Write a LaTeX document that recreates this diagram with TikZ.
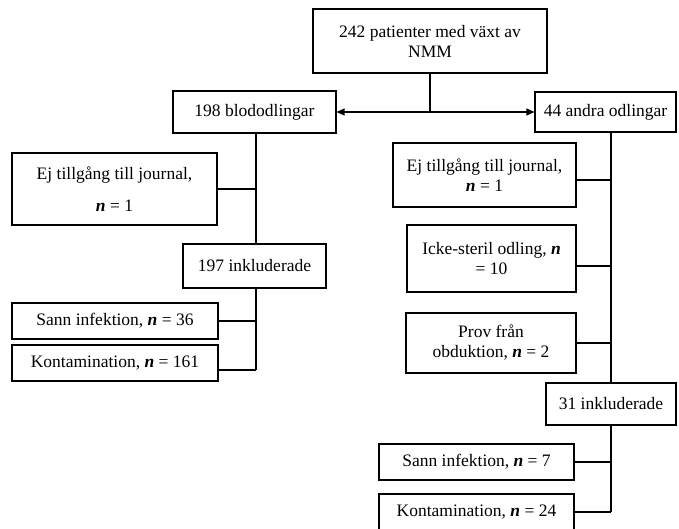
\documentclass[tikz,border=0pt]{standalone}
\usepackage{fontspec}
\setmainfont{Liberation Serif}
\usetikzlibrary{arrows.meta}
\newcommand{\nn}{\textbf{\textit{n}}}
\begin{document}
\begin{tikzpicture}[x=1pt,y=-1pt,
  box/.style={draw, line width=1.1pt, fill=white, inner sep=2pt, align=center,
    font=\fontsize{17.5}{20}\selectfont},
  link/.style={line width=1.3pt}]
\useasboundingbox (0,0) rectangle (679,529);
\fill[white] (0,0) rectangle (679,529);
% trunks (drawn first, boxes on top)
\coordinate (Ltop) at (256,133);
\coordinate (Lbot) at (256,370);
\coordinate (Rtop) at (611,132);
\coordinate (Rbot) at (611,512);
\coordinate (split) at (430,112);
\draw[link] (Ltop) -- (Lbot);
\draw[link] (Rtop) -- (Rbot);
% nodes
\node[box, minimum width=234pt, minimum height=64pt] (top) at (430,41) {242 patienter med växt av\\NMM};
\node[box, minimum width=163pt, minimum height=42pt] (blod) at (254.5,112) {198 blododlingar};
\node[box, minimum width=141pt, minimum height=40pt] (andra) at (605.5,112) {44 andra odlingar};
\node[box, minimum width=205pt, minimum height=72pt, font=\fontsize{17.5}{32}\selectfont] (LEj) at (114.5,189) {Ej tillgång till journal,\\\nn{} = 1};
\node[box, minimum width=143pt, minimum height=44pt] (inc197) at (254.5,266) {197 inkluderade};
\node[box, minimum width=206pt, minimum height=36pt] (sann36) at (115,321) {Sann infektion, \nn{} = 36};
\node[box, minimum width=206pt, minimum height=36pt] (kont161) at (115,363) {Kontamination, \nn{} = 161};
\node[box, minimum width=183pt, minimum height=64pt] (REj) at (484.5,175) {Ej tillgång till journal,\\\nn{} = 1};
\node[box, minimum width=169pt, minimum height=67pt] (icke) at (491.5,258.5) {Icke-steril odling, \nn{}\\= 10};
\node[box, minimum width=170pt, minimum height=60pt] (prov) at (491,343) {Prov från\\obduktion, \nn{} = 2};
\node[box, minimum width=130pt, minimum height=42pt] (inc31) at (611,404) {31 inkluderade};
\node[box, minimum width=195pt, minimum height=36pt] (sann7) at (476.5,462) {Sann infektion, \nn{} = 7};
\node[box, minimum width=195pt, minimum height=36pt] (kont24) at (476.5,512) {Kontamination, \nn{} = 24};
% top split
\draw[link] (top.south) -- (split);
\draw[line width=1.3pt, {Triangle[length=8pt,width=7pt]}-{Triangle[length=8pt,width=7pt]}] (blod.east) -- (andra.west);
% left branches
\draw[link] (LEj.east) -- (LEj.east -| Ltop);
\draw[link] (sann36.east) -- (sann36.east -| Ltop);
\draw[link] (kont161.east |- Lbot) -- (Lbot);
% right branches
\draw[link] ([yshift=-5pt]REj.east) -- ([yshift=-5pt]REj.east -| Rtop);
\draw[link] ([yshift=-7.5pt]icke.east) -- ([yshift=-7.5pt]icke.east -| Rtop);
\draw[link] (prov.east) -- (prov.east -| Rtop);
\draw[link] (sann7.east) -- (sann7.east -| Rtop);
\draw[link] (kont24.east) -- (Rbot);
\end{tikzpicture}
\end{document}
